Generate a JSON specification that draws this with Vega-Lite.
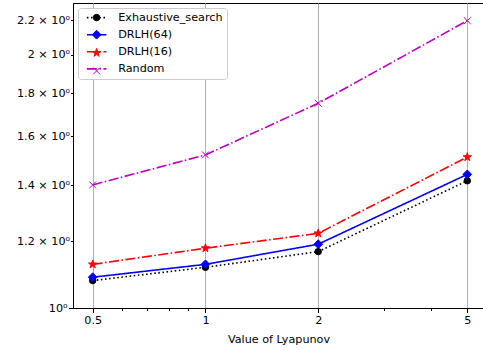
{
  "$schema": "https://vega.github.io/schema/vega-lite/v6.json",
  "autosize": {"type": "none"},
  "width": 411,
  "height": 305,
  "padding": {"left": 73, "top": 3, "right": 0, "bottom": 43},
  "background": "white",
  "config": {
    "font": "DejaVu Sans",
    "view": {"stroke": "#000000", "strokeWidth": 1},
    "axis": {
      "labelFont": "DejaVu Sans",
      "titleFont": "DejaVu Sans",
      "labelFontSize": 11.2,
      "titleFontSize": 11.2,
      "titleFontWeight": "normal",
      "labelColor": "#000000",
      "titleColor": "#000000",
      "tickColor": "#000000",
      "domainColor": "#000000",
      "domainWidth": 1,
      "tickWidth": 1
    },
    "legend": {"labelFont": "DejaVu Sans", "labelColor": "#000000"}
  },
  "data": {
    "values": [
      {"lyapunov": 0.5, "value": 1.078, "series": "Exhaustive_search"},
      {"lyapunov": 1, "value": 1.118, "series": "Exhaustive_search"},
      {"lyapunov": 2, "value": 1.167, "series": "Exhaustive_search"},
      {"lyapunov": 5, "value": 1.417, "series": "Exhaustive_search"},
      {"lyapunov": 0.5, "value": 1.088, "series": "DRLH(64)"},
      {"lyapunov": 1, "value": 1.127, "series": "DRLH(64)"},
      {"lyapunov": 2, "value": 1.191, "series": "DRLH(64)"},
      {"lyapunov": 5, "value": 1.442, "series": "DRLH(64)"},
      {"lyapunov": 0.5, "value": 1.127, "series": "DRLH(16)"},
      {"lyapunov": 1, "value": 1.178, "series": "DRLH(16)"},
      {"lyapunov": 2, "value": 1.227, "series": "DRLH(16)"},
      {"lyapunov": 5, "value": 1.512, "series": "DRLH(16)"},
      {"lyapunov": 0.5, "value": 1.401, "series": "Random"},
      {"lyapunov": 1, "value": 1.521, "series": "Random"},
      {"lyapunov": 2, "value": 1.752, "series": "Random"},
      {"lyapunov": 5, "value": 2.197, "series": "Random"}
    ]
  },
  "layer": [
    {
      "mark": {"type": "line", "strokeWidth": 1.6},
      "encoding": {
        "x": {
          "field": "lyapunov", "type": "quantitative",
          "scale": {"type": "log", "domain": [0.443, 5.541], "nice": false},
          "axis": {
            "orient": "bottom",
            "values": [0.5, 1, 2, 5],
            "labelExpr": "format(datum.value, '~g')",
            "tickSize": 4.5,
            "labelPadding": 2,
            "grid": true,
            "gridColor": "#b0b0b0",
            "gridWidth": 1,
            "title": "Value of Lyapunov",
            "titlePadding": 8
          }
        },
        "y": {
          "field": "value", "type": "quantitative",
          "scale": {"type": "log", "domain": [1, 2.306], "nice": false},
          "axis": {
            "orient": "left",
            "values": [1],
            "labelExpr": "'10⁰'",
            "tickSize": 4.5,
            "labelPadding": 1.5,
            "grid": false,
            "title": null
          }
        },
        "color": {
          "field": "series", "type": "nominal",
          "scale": {
            "domain": ["Exhaustive_search", "DRLH(64)", "DRLH(16)", "Random"],
            "range": ["#000000", "#0000ff", "#ff0000", "#bf00bf"]
          },
          "legend": {
            "title": null,
            "orient": "top-left",
            "offset": 5,
            "padding": 4,
            "fillColor": "#ffffff",
            "strokeColor": "#cccccc",
            "cornerRadius": 3,
            "symbolType": "M-3,0L3,0",
            "symbolSize": 42,
            "symbolStrokeWidth": 1.6,
            "symbolOffset": 9,
            "labelOffset": 16,
            "labelFontSize": 11.2,
            "rowPadding": 5.1,
            "zindex": 1
          }
        },
        "strokeDash": {
          "field": "series", "type": "nominal",
          "scale": {
            "domain": ["Exhaustive_search", "DRLH(64)", "DRLH(16)", "Random"],
            "range": [[1.56, 2.57], [1, 0], [10, 2.5, 1.56, 2.5], [10, 2.5, 1.56, 2.5]]
          },
          "legend": {
            "title": null,
            "orient": "top-left",
            "offset": 5,
            "symbolType": "M-3,0L3,0",
            "zindex": 1
          }
        }
      }
    },
    {
      "mark": {"type": "point", "filled": true, "opacity": 1, "size": 42, "strokeWidth": 1},
      "encoding": {
        "x": {
          "field": "lyapunov", "type": "quantitative",
          "axis": {
            "orient": "bottom",
            "values": [0.6, 0.7, 0.8, 0.9, 3, 4],
            "tickSize": 2.5,
            "labels": false,
            "domain": false,
            "grid": false,
            "title": null
          }
        },
        "y": {
          "field": "value", "type": "quantitative",
          "axis": {
            "orient": "left",
            "values": [1.2, 1.4, 1.6, 1.8, 2, 2.2],
            "labelExpr": "format(datum.value, '.1~f') + ' × 10⁰'",
            "tickSize": 2.5,
            "labelPadding": 1,
            "domain": false,
            "grid": false,
            "title": null
          }
        },
        "fill": {
          "field": "series", "type": "nominal",
          "scale": {
            "domain": ["Random", "DRLH(16)", "DRLH(64)", "Exhaustive_search"],
            "range": ["#bf00bf", "#ff0000", "#0000ff", "#000000"]
          },
          "legend": {
            "title": null,
            "orient": "none",
            "legendX": 5,
            "legendY": 5,
            "values": ["Exhaustive_search", "DRLH(64)", "DRLH(16)", "Random"],
            "padding": 4,
            "symbolSize": 42,
            "symbolStrokeWidth": 1,
            "symbolOffset": 9,
            "labelOffset": 16,
            "labelFontSize": 11.2,
            "labelOpacity": 0,
            "rowPadding": 5.1,
            "zindex": 2
          }
        },
        "stroke": {
          "field": "series", "type": "nominal",
          "scale": {
            "domain": ["Random", "DRLH(16)", "DRLH(64)", "Exhaustive_search"],
            "range": ["#bf00bf", "#ff0000", "#0000ff", "#000000"]
          },
          "legend": {
            "title": null,
            "orient": "none",
            "legendX": 5,
            "legendY": 5,
            "values": ["Exhaustive_search", "DRLH(64)", "DRLH(16)", "Random"],
            "labelOpacity": 0,
            "zindex": 2
          }
        },
        "shape": {
          "field": "series", "type": "nominal",
          "scale": {
            "domain": ["Random", "DRLH(16)", "DRLH(64)", "Exhaustive_search"],
            "range": ["M-1.05,-1.05L1.05,1.05M-1.05,1.05L1.05,-1.05", "M0,-1.35L0.303,-0.417L1.284,-0.417L0.49,0.16L0.794,1.092L0,0.516L-0.794,1.092L-0.49,0.16L-1.284,-0.417L-0.303,-0.417Z", "M0,-1.35L1.35,0L0,1.35L-1.35,0Z", "circle"]
          },
          "legend": {
            "title": null,
            "orient": "none",
            "legendX": 5,
            "legendY": 5,
            "values": ["Exhaustive_search", "DRLH(64)", "DRLH(16)", "Random"],
            "labelOpacity": 0,
            "zindex": 2
          }
        }
      }
    }
  ],
  "resolve": {"axis": {"x": "independent", "y": "independent"}}
}
